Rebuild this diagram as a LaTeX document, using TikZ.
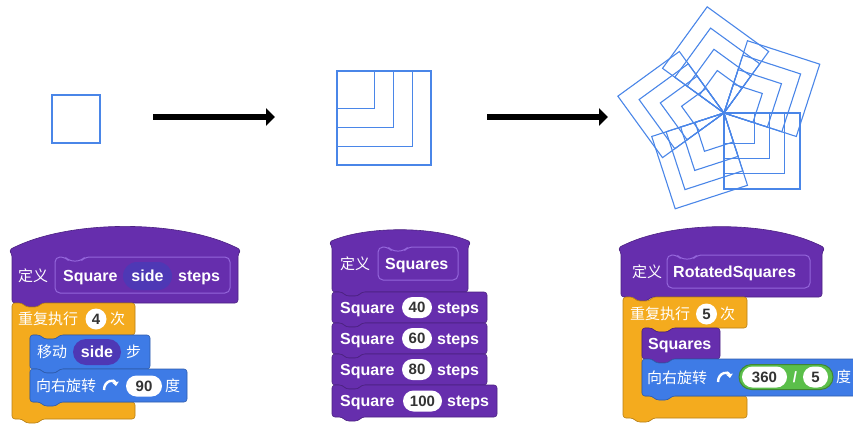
\documentclass[tikz,border=0pt]{standalone}
\usepackage{fontspec}
\setmainfont{Liberation Sans}
\newfontfamily\cjk{Noto Sans CJK SC}
\usetikzlibrary{arrows.meta,shapes.misc}

\definecolor{hatpurple}{HTML}{662EAD}
\definecolor{protoedge}{HTML}{9466DB}
\definecolor{pillpurple}{HTML}{4E38B5}
\definecolor{ctrlorange}{HTML}{F4AB1E}
\definecolor{motionblue}{HTML}{3E7BE6}
\definecolor{opgreen}{HTML}{5BBF4A}
\definecolor{numgray}{HTML}{333333}
\definecolor{penblue}{HTML}{4A86E8}

\newcommand{\lat}{\fontsize{16}{18}\selectfont\bfseries}
\newcommand{\zh}{\cjk\fontsize{15}{18}\selectfont}
\newcommand{\numf}{\fontsize{15}{18}\selectfont\bfseries}

\tikzset{
  blockedge/.style={line width=0.6pt, rounded corners=3pt},
  protoline/.style={draw=protoedge, line width=1pt, rounded corners=5pt},
  blocktxt/.style={text=white, inner sep=0pt, anchor=west, font=\lat, text height=11.5pt, text depth=0pt},
  zhtxt/.style={text=white, inner sep=0pt, anchor=west, font=\zh, text height=11pt, text depth=0pt},
  numval/.style={rounded rectangle, fill=white, text=numgray, inner sep=0pt, font=\numf,
    text height=10.5pt, text depth=0pt, minimum height=21pt},
  varpill/.style={rounded rectangle, fill=pillpurple, text=white, inner sep=0pt, font=\lat,
    text height=11.5pt, text depth=0pt},
  oppill/.style={rounded rectangle, fill=opgreen, draw=opgreen!70!black, line width=1pt, inner sep=0pt},
  pen/.style={draw=penblue, line width=1.1pt},
  bigarrow/.style={line width=6pt, -{Triangle[length=9pt,width=17pt]}},
  turnarrow/.style={draw=white, line width=2.4pt, -{Triangle[length=4pt,width=6.5pt]}}
}

% block outlines, y grows downwards
\newcommand{\stackblock}[5]{%
  \draw[blockedge, fill=#1, draw=#1!75!black]
    (#2,#3) -- ({#2+10},#3) -- ({#2+14},{#3+4}) -- ({#2+26},{#3+4}) -- ({#2+30},#3)
    -- (#4,#3) -- (#4,#5) -- ({#2+30},#5) -- ({#2+26},{#5+4}) -- ({#2+14},{#5+4})
    -- ({#2+10},#5) -- (#2,#5) -- cycle;}
\newcommand{\hatblock}[5]{%
  \draw[blockedge, fill=hatpurple, draw=hatpurple!75!black]
    (#1,#5) -- (#1,{#2+4}) -- ({#1-3},#2)
    .. controls ({#1+0.25*(#4-#1)},#3) and ({#4-0.25*(#4-#1)},#3) .. ({#4+3},#2)
    -- (#4,{#2+4}) -- (#4,#5) -- ({#1+30},#5) -- ({#1+26},{#5+4}) -- ({#1+14},{#5+4})
    -- ({#1+10},#5) -- cycle;}
\newcommand{\cblock}[7]{%
  \draw[blockedge, fill=ctrlorange, draw=ctrlorange!75!black]
    (#1,#2) -- ({#1+10},#2) -- ({#1+14},{#2+4}) -- ({#1+26},{#2+4}) -- ({#1+30},#2)
    -- (#3,#2) -- (#3,#4) -- ({#5+30},#4) -- ({#5+26},{#4+4}) -- ({#5+14},{#4+4})
    -- ({#5+10},#4) -- (#5,#4) -- (#5,#6) -- (#3,#6) -- (#3,#7)
    -- ({#1+30},#7) -- ({#1+26},{#7+4}) -- ({#1+14},{#7+4}) -- ({#1+10},#7) -- (#1,#7) -- cycle;}
\newcommand{\protobox}[4]{%
  \draw[protoline] (#1,#2) -- ({#1+10},#2) -- ({#1+14},{#2+4}) -- ({#1+26},{#2+4})
    -- ({#1+30},#2) -- (#3,#2) -- (#3,#4) -- (#1,#4) -- cycle;}
\newcommand{\turnicon}[2]{%
  \draw[turnarrow] ({#1-6},{#2+4}) .. controls ({#1-6},{#2-6}) and ({#1+5},{#2-7}) .. ({#1+6},{#2});}

\begin{document}
\begin{tikzpicture}[x=1pt, y=-1pt]
  \useasboundingbox (0,0) rectangle (853,423);

  % what the turtle draws
  \draw[pen] (52,95) rectangle (100,143);
  \foreach \s in {40,60,80,100}
    \draw[pen] (337,71) rectangle ++({0.94*\s},{0.94*\s});
  \foreach \k in {0,...,4}
    \foreach \s in {40,60,80,100}
      \draw[pen, shift={(724,113)}, rotate={-72*\k}] (0,0) rectangle ({0.76*\s},{0.76*\s});

  \coordinate (arrAs) at (153,117);
  \coordinate (arrAe) at (275,117);
  \coordinate (arrBs) at (487,117);
  \coordinate (arrBe) at (608,117);
  \draw[bigarrow] (arrAs) -- (arrAe);
  \draw[bigarrow] (arrBs) -- (arrBe);

  % Square side steps
  \hatblock{12}{250}{219}{238}{303}
  \protobox{55}{257}{230}{293}
  \node[zhtxt] (defA) at (18,276) {定义};
  \node[blocktxt] (sqA) at (63,276) {Square};
  \node[varpill, minimum width=49pt, minimum height=28pt] (sideA) at (147.5,276) {side};
  \node[blocktxt] (stepsA) at (178,276) {steps};
  \cblock{12}{303}{135}{335}{30}{402}{419}
  \stackblock{motionblue}{30}{335}{150}{369}
  \stackblock{motionblue}{30}{369}{187}{402}
  \node[zhtxt] (repA) at (18,319) {重复执行};
  \node[numval, minimum width=21pt] (fourA) at (96,319) {4};
  \node[zhtxt] (timesA) at (110,319) {次};
  \node[zhtxt] (moveA) at (37,352) {移动};
  \node[varpill, minimum width=48pt, minimum height=26pt] (sideB) at (97,352) {side};
  \node[zhtxt] (stepA) at (126,352) {步};
  \node[zhtxt] (turnA) at (36,386) {向右旋转};
  \turnicon{110}{386}
  \node[numval, minimum width=36pt] (ninetyA) at (144,386) {90};
  \node[zhtxt] (degA) at (165,386) {度};

  % Squares
  \hatblock{332}{242}{226}{468}{292}
  \protobox{378}{247}{458}{280}
  \node[zhtxt] (defB) at (340,264) {定义};
  \node[blocktxt] (sqsB) at (385,264) {Squares};
  \stackblock{hatpurple}{332}{292}{487}{323}
  \stackblock{hatpurple}{332}{323}{487}{354}
  \stackblock{hatpurple}{332}{354}{487}{385}
  \stackblock{hatpurple}{332}{385}{497}{417}
  \foreach \n/\y in {40/307.5, 60/338.5, 80/369.5} {
    \node[blocktxt] (sq\n) at (340,\y) {Square};
    \node[numval, minimum width=30pt] (val\n) at (417,\y) {\n};
    \node[blocktxt] (st\n) at (437,\y) {steps};
  }
  \node[blocktxt] (sq100) at (340,401) {Square};
  \node[numval, minimum width=39pt] (val100) at (422.5,401) {100};
  \node[blocktxt] (st100) at (447,401) {steps};

  % RotatedSquares
  \hatblock{621}{248}{220}{822}{297}
  \protobox{667}{255}{810}{288}
  \node[zhtxt] (defC) at (632,272) {定义};
  \node[blocktxt] (rotC) at (673,272) {RotatedSquares};
  \cblock{623}{297}{747}{328}{642}{396}{418}
  \stackblock{hatpurple}{642}{328}{720}{359}
  \stackblock{motionblue}{642}{359}{870}{396}
  \node[zhtxt] (repC) at (630,314) {重复执行};
  \node[numval, minimum width=20pt] (fiveC) at (706.5,314) {5};
  \node[zhtxt] (timesC) at (720,314) {次};
  \node[blocktxt] (sqsC) at (648,344) {Squares};
  \node[zhtxt] (turnC) at (647,378) {向右旋转};
  \turnicon{724}{378}
  \node[oppill, minimum width=94pt, minimum height=25pt] (divC) at (786,377) {};
  \node[numval, minimum width=45pt] (fullC) at (764.5,377) {360};
  \node[text=white, font=\numf, inner sep=0pt] (slashC) at (795,377) {/};
  \node[numval, minimum width=25pt] (fiveD) at (815.5,377) {5};
  \node[zhtxt] (degC) at (836,377) {度};
\end{tikzpicture}
\end{document}
